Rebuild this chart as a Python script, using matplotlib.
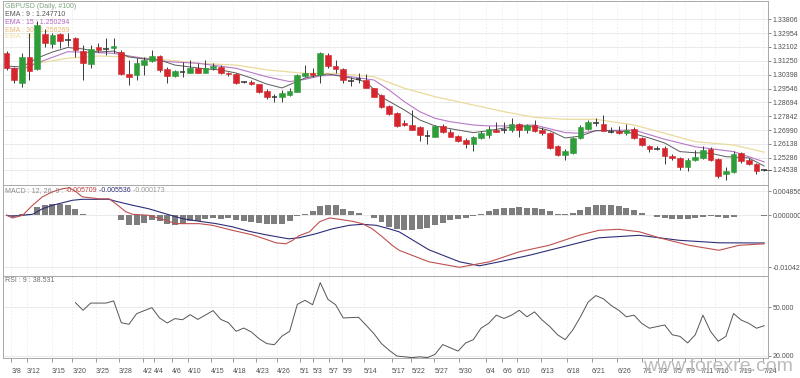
import matplotlib
matplotlib.use('Agg')
import matplotlib.pyplot as plt
from matplotlib.patches import Rectangle

# ---------------- data ----------------
opens = [1.3171,1.3079,1.2990,1.3148,1.3074,1.3290,1.3229,1.3290,1.3253,1.3265,
         1.3187,1.3105,1.3210,1.3198,1.3204,1.3181,1.3043,1.3037,1.3099,1.3125,
         1.3154,1.3074,1.3033,1.3058,1.3051,1.3082,1.3051,1.3079,1.3088,1.3051,
         1.3043,1.2992,1.2996,1.2980,1.2942,1.2903,1.2900,1.2914,1.2934,1.3031,
         1.3051,1.3037,1.3161,1.3093,1.3072,1.3006,1.3008,1.3006,1.2955,1.2914,
         1.2846,1.2801,1.2743,1.2728,1.2715,1.2668,1.2657,1.2724,1.2687,1.2661,
         1.2636,1.2612,1.2647,1.2667,1.2702,1.2698,1.2698,1.2735,1.2698,1.2728,
         1.2698,1.2681,1.2599,1.2543,1.2558,1.2647,1.2708,1.2741,1.2735,1.2688,
         1.2694,1.2678,1.2708,1.2650,1.2601,1.2586,1.2591,1.2537,1.2529,1.2471,
         1.2513,1.2529,1.2585,1.2523,1.2426,1.2441,1.2558,1.2517,1.2488,1.2455]
highs = [1.3185,1.3088,1.3173,1.3296,1.3370,1.3319,1.3296,1.3296,1.3296,1.3272,
         1.3222,1.3222,1.3235,1.3265,1.3265,1.3192,1.3130,1.3142,1.3148,1.3192,
         1.3161,1.3087,1.3068,1.3117,1.3130,1.3111,1.3130,1.3111,1.3099,1.3056,
         1.3049,1.3000,1.3006,1.2982,1.2950,1.2920,1.2944,1.2957,1.3043,1.3099,
         1.3080,1.3179,1.3173,1.3130,1.3080,1.3027,1.3048,1.3043,1.2957,1.2920,
         1.2852,1.2808,1.2759,1.2821,1.2723,1.2698,1.2728,1.2739,1.2708,1.2667,
         1.2647,1.2661,1.2692,1.2723,1.2749,1.2749,1.2770,1.2741,1.2735,1.2759,
         1.2715,1.2685,1.2605,1.2585,1.2653,1.2728,1.2759,1.2770,1.2790,1.2715,
         1.2723,1.2739,1.2715,1.2655,1.2605,1.2599,1.2599,1.2549,1.2531,1.2525,
         1.2574,1.2599,1.2595,1.2529,1.2471,1.2570,1.2564,1.2525,1.2494,1.2460]
lows = [1.3068,1.2986,1.2965,1.3006,1.3068,1.3212,1.3204,1.3204,1.3216,1.3148,
        1.3006,1.3080,1.3179,1.3161,1.3173,1.3037,1.2975,1.3006,1.3037,1.3117,
        1.3056,1.2988,1.3025,1.3025,1.3049,1.3049,1.3049,1.3068,1.3043,1.3031,
        1.2981,1.2988,1.2975,1.2926,1.2889,1.2873,1.2873,1.2908,1.2930,1.3027,
        1.3027,1.2988,1.3080,1.3048,1.2988,1.2969,1.2990,1.2957,1.2900,1.2836,
        1.2790,1.2716,1.2723,1.2698,1.2632,1.2616,1.2653,1.2681,1.2653,1.2625,
        1.2591,1.2570,1.2642,1.2647,1.2685,1.2678,1.2687,1.2657,1.2678,1.2687,
        1.2667,1.2585,1.2536,1.2512,1.2554,1.2641,1.2702,1.2723,1.2690,1.2678,
        1.2673,1.2667,1.2645,1.2599,1.2564,1.2574,1.2492,1.2517,1.2451,1.2447,
        1.2508,1.2523,1.2508,1.2406,1.2389,1.2437,1.2496,1.2482,1.2431,1.2448]
closes = [1.3079,1.3006,1.3146,1.3064,1.3346,1.3237,1.3284,1.3249,1.3256,1.3192,
          1.3109,1.3198,1.3192,1.3195,1.3216,1.3043,1.3023,1.3111,1.3130,1.3154,
          1.3068,1.3031,1.3064,1.3056,1.3082,1.3051,1.3080,1.3093,1.3048,1.3041,
          1.2986,1.2996,1.2982,1.2934,1.2902,1.2905,1.2924,1.2940,1.3037,1.3048,
          1.3037,1.3171,1.3093,1.3072,1.3006,1.3003,1.3011,1.2959,1.2903,1.2842,
          1.2797,1.2723,1.2727,1.2702,1.2667,1.2665,1.2723,1.2687,1.2657,1.2632,
          1.2616,1.2653,1.2678,1.2708,1.2687,1.2700,1.2739,1.2698,1.2728,1.2694,
          1.2678,1.2589,1.2543,1.2568,1.2647,1.2715,1.2749,1.2743,1.2694,1.2686,
          1.2678,1.2702,1.2650,1.2605,1.2585,1.2584,1.2537,1.2529,1.2471,1.2517,
          1.2533,1.2579,1.2517,1.2414,1.2447,1.2554,1.2508,1.2488,1.2447,1.24538]

ema9_idx = [0,2,4,6,8,10,12,14,16,18,20,22,24,26,28,30,32,34,36,39,41,42,45,47,49,52,54,56,
            59,61,63,65,67,69,71,73,75,77,79,81,84,86,88,90,92,94,97,99]
ema9_val = [1.3093,1.3087,1.3142,1.3179,1.3207,1.3198,1.3179,1.3185,1.3149,1.3136,1.3130,
            1.3099,1.3087,1.3075,1.3069,1.3050,1.3019,1.2982,1.2958,1.3019,1.3038,1.3044,
            1.3019,1.2995,1.2902,1.2822,1.2761,1.2724,1.2699,1.2683,1.2695,1.2711,1.2719,
            1.2719,1.2695,1.2650,1.2662,1.2695,1.2695,1.2689,1.2650,1.2619,1.2566,1.2559,
            1.2556,1.2535,1.2527,1.24771]
ema15_idx = [0,2,4,8,12,14,17,21,25,30,34,37,39,41,43,45,48,50,52,54,56,58,61,63,65,69,
             73,75,77,82,86,90,95,99]
ema15_val = [1.3081,1.3075,1.3112,1.3181,1.3175,1.3171,1.3147,1.3120,1.3110,1.3079,1.3027,
             1.2997,1.3011,1.3032,1.3038,1.3027,1.3007,1.2945,1.2873,1.2812,1.2771,1.2750,
             1.2730,1.2724,1.2724,1.2730,1.2683,1.2679,1.2695,1.2699,1.2642,1.2596,1.2566,
             1.250294]
ema30_idx = [2,4,8,12,17,21,25,30,34,39,43,48,52,56,61,65,69,73,77,82,86,90,95,99]
ema30_val = [1.3069,1.3110,1.3141,1.3155,1.3147,1.3130,1.3110,1.3099,1.3069,1.3048,1.3048,
             1.3027,1.2956,1.2904,1.2853,1.2812,1.2777,1.2765,1.2765,1.2730,1.2679,1.2627,
             1.2607,1.256269]

macd_idx = [0,0.8,2.1,3.4,4.7,6.0,7.3,8.2,9.1,9.9,12.1,13.4,14.3,15.6,16.5,18.6,20.8,22.1,
            25.2,26.9,29.5,32.1,33.9,35.2,36.5,37.4,38.2,39.6,40.9,42.2,43.5,45.2,46.5,47.8,
            49.1,50.4,51.3,55.2,59.2,63.1,67.0,70.9,74.8,77.4,80.0,82.7,85.3,89.2,93.1,95.7,99]
macd_val = [0,-0.00053,0,0.0020,0.0037,0.0047,0.0053,0.0055,0.0047,0.0037,0.0033,0.0033,
            0.0023,0.0007,0.0002,0,-0.0010,-0.00167,-0.00167,-0.0020,-0.0030,-0.0039,-0.0048,
            -0.0055,-0.0057,-0.0050,-0.0041,-0.0033,-0.0013,-0.00053,-0.0008,-0.0012,-0.00167,
            -0.0027,-0.0043,-0.0060,-0.0070,-0.0093,-0.0104,-0.0093,-0.0073,-0.0060,-0.0040,
            -0.0030,-0.0028,-0.0033,-0.0045,-0.0060,-0.0070,-0.0060,-0.005709]
signal_idx = [0,0.8,2.1,3.4,4.7,6.0,7.3,8.6,9.9,11.2,13.4,14.3,16.5,18.6,20.8,23.0,25.2,27.4,
              29.5,31.7,33.9,36.1,36.9,38.2,40.4,42.6,44.8,46.5,48.3,50.0,51.3,55.2,59.2,61.8,
              64.4,68.3,72.2,77.4,82.7,87.9,93.1,99]
signal_val = [0,-0.0002,0,0.0002,0.0013,0.0020,0.0025,0.0030,0.0032,0.0032,0.0032,0.0028,
              0.0020,0.0013,0.0003,-0.00067,-0.0012,-0.00167,-0.0023,-0.0032,-0.0039,-0.0045,
              -0.0047,-0.0045,-0.0037,-0.0027,-0.0020,-0.0018,-0.0020,-0.0027,-0.0033,-0.0069,
              -0.0093,-0.0101,-0.0093,-0.0080,-0.0065,-0.0045,-0.0040,-0.0050,-0.0055,-0.005536]
macd_hist = [0.0001,-0.0002,0.0002,0.0003,0.00167,0.0020,0.00233,0.00233,0.00213,0.00133,
             0.00033,0.0001,0.0,0.0,0.0,-0.0010,-0.0020,-0.00187,-0.00147,-0.0010,
             -0.0012,-0.00167,-0.00187,-0.00167,-0.0012,-0.0012,-0.00067,-0.00053,-0.00067,-0.00053,
             -0.0010,-0.0012,-0.00133,-0.00147,-0.0018,-0.0018,-0.00167,-0.0012,-0.0001,0.0002,
             0.0008,0.00187,0.00213,0.0020,0.00133,0.0008,0.00047,0.0,-0.00053,-0.00133,
             -0.00233,-0.0028,-0.0030,-0.0030,-0.0028,-0.0025,-0.0020,-0.0015,-0.0010,-0.0008,
             -0.0005,-0.0002,0.0003,0.0008,0.0012,0.0014,0.0015,0.0016,0.0015,0.0014,
             0.0012,0.0008,0.0003,0.0002,0.0005,0.0010,0.0016,0.0020,0.0021,0.0020,
             0.0018,0.0014,0.0010,0.0005,0.0,-0.0003,-0.0005,-0.0007,-0.0008,-0.0008,
             -0.0006,-0.0003,-0.0001,-0.0003,-0.0005,-0.0003,0.0001,0.0001,0.0,-0.000173]

rsi_start = 9
rsi_val = [52.7,48.0,52.4,52.4,52.4,53.7,40.4,39.4,45.9,47.8,49.6,43.3,40.2,42.9,42.2,45.3,
           42.4,45.1,47.8,42.4,40.4,35.1,37.1,34.7,30.6,27.6,26.9,32.2,35.1,51.6,54.1,51.4,
           64.9,54.7,51.4,43.3,43.5,43.7,38.8,33.7,27.6,23.5,20.0,19.5,19.0,19.5,19.0,21.0,
           27.0,25.0,23.0,28.0,30.0,37.0,40.0,45.0,43.0,45.0,48.0,44.0,47.0,42.0,38.0,33.0,
           30.0,36.0,44.0,53.0,57.0,55.0,51.0,48.0,44.0,45.0,40.0,37.0,38.0,39.0,33.0,32.0,
           28.0,33.0,45.0,35.0,29.0,32.0,46.0,42.0,40.0,37.0,38.531]

price_ticks = [1.33806,1.32954,1.32102,1.31250,1.30398,1.29546,1.28694,1.27842,1.26990,1.26138,1.25286]
last_price = 1.24538
macd_ticks = [0.004856, 0.0, -0.010427]
macd_tick_labels = ['0.004856', '0.000000', '-0.010427']
rsi_ticks = [50, 20]
date_labels = ['3/8','3/12','3/15','3/20','3/25','3/28','4/2','4/4','4/6','4/10','4/15','4/18',
               '4/23','4/26','5/1','5/3','5/7','5/9','5/14','5/17','5/22','5/27','5/30','6/4',
               '6/6','6/10','6/13','6/18','6/21','6/26','7/1','7/3','7/5','7/9','7/11','7/16',
               '7/19','7/24']
date_pos = [0.65,2.7,5.9,8.6,11.7,14.7,17.8,19.3,21.6,23.7,26.7,29.6,32.6,35.3,38.3,40.0,42.1,
            43.9,46.7,50.4,52.9,55.9,59.1,62.6,64.8,66.7,69.8,73.2,76.5,79.8,83.1,85.1,87.0,
            88.7,90.7,92.6,95.7,98.9]

# ---------------- layout ----------------
W, H = 800, 378
X0, STEP = 6.5, 7.653   # pixel of first candle, pixel per candle
FONT = 'Liberation Sans'
FS = 5.0
TXT = '#505050'
GRID = '#e6e6e6'
SPINE = '#a8a8a8'

plt.rcParams['font.family'] = [FONT, 'DejaVu Sans']

fig = plt.figure(figsize=(W / 100, H / 100), dpi=100)
fig.patch.set_facecolor('white')


def add_ax(l, t, r, b):
    return fig.add_axes([l / W, 1 - b / H, (r - l) / W, (b - t) / H])


ax1 = add_ax(3, 1, 768, 185)
ax2 = add_ax(3, 185, 768, 276)
ax3 = add_ax(3, 276, 768, 358)
xlim = ((3 - X0) / STEP, (768 - X0) / STEP)

for ax in (ax1, ax2, ax3):
    ax.set_xlim(*xlim)
    ax.yaxis.tick_right()
    ax.tick_params(axis='y', length=2, width=0.6, color='#777', labelsize=FS,
                   labelcolor=TXT, pad=1.5)
    ax.tick_params(axis='x', length=0)
    for s in ax.spines.values():
        s.set_color(SPINE)
        s.set_linewidth(0.7)
    ax.set_xticks(date_pos)
    ax.xaxis.grid(True, color='#ececec', lw=0.6, ls=(0, (2, 2)))
    ax.yaxis.grid(True, color=GRID, lw=0.6)
    ax.set_axisbelow(True)
    ax.set_xticklabels([])

# ---------- main candle panel ----------
def p_of_pix(y):
    return 1.33806 + (19.3 - y) * 0.0006156

ax1.set_ylim(p_of_pix(185), p_of_pix(1))
ax1.set_yticks(price_ticks + [last_price])
ax1.set_yticklabels([f'{v:.5f}' for v in price_ticks + [last_price]])

UP, DOWN, WICK = '#2f9e3a', '#d4262c', '#3a3a3a'
bw = 0.74
for i, (o, h, l, c) in enumerate(zip(opens, highs, lows, closes)):
    ax1.plot([i, i], [l, h], color=WICK, lw=0.7, zorder=3, solid_capstyle='butt')
    if abs(c - o) < 0.0005:
        ax1.plot([i - bw / 2, i + bw / 2], [c, c], color='#333333', lw=1.1, zorder=4,
                 solid_capstyle='butt')
    else:
        col = UP if c > o else DOWN
        ax1.add_patch(Rectangle((i - bw / 2, min(o, c)), bw, abs(c - o), facecolor=col,
                                edgecolor=col, lw=0.4, zorder=4))

ax1.plot(ema30_idx, ema30_val, color='#eadb9c', lw=0.9, zorder=2.5)
ax1.plot(ema15_idx, ema15_val, color='#b878c8', lw=0.8, zorder=2.6)
ax1.plot(ema9_idx, ema9_val, color='#5a5a5a', lw=0.7, zorder=2.7)
ax1.plot([len(closes) - 1, xlim[1] + 0.4], [last_price, last_price], color='#555555',
         lw=0.6, zorder=3, clip_on=False)

legend_rows = [('GBPUSD (Daily, #100)', '#7fa27f', 6.5),
               ('EMA : 9 : 1.247710', '#555555', 14.5),
               ('EMA : 15 : 1.250294', '#b468c6', 23.0),
               ('EMA : 30 : 1.256269', '#e8b878', 30.5),
               ('EMA : 30', '#efe0a6', 36.5)]
for txt, col, yp in legend_rows:
    ax1.text(5 / W, 1 - yp / H, txt, transform=fig.transFigure, color=col, fontsize=FS,
             va='center', ha='left', zorder=2)

# ---------- MACD panel ----------
def m_of_pix(y):
    return (215.3 - y) / 5.0 * 1e-3

ax2.set_ylim(m_of_pix(276), m_of_pix(185))
ax2.set_yticks(macd_ticks)
ax2.set_yticklabels(macd_tick_labels)
ax2.bar(range(len(macd_hist)), macd_hist, width=0.78, color='#7d7d7d', zorder=2)
ax2.plot(signal_idx, signal_val, color='#2e2f78', lw=0.8, zorder=3)
ax2.plot(macd_idx, macd_val, color='#c05050', lw=0.8, zorder=3)

t = ax2.text(5 / W, 1 - 190.5 / H, 'MACD : 12, 26, 9 : ', transform=fig.transFigure,
             color='#8a8a8a', fontsize=FS, va='center', ha='left')
for piece, col in (('-0.005709', '#c04040'), (' -0.005536', '#2e2f78'), (' -0.000173', '#9a9a9a')):
    t = ax2.annotate(piece, xy=(1, 0), xycoords=t, color=col, fontsize=FS, va='bottom',
                     ha='left')

# ---------- RSI panel ----------
def r_of_pix(y):
    return 50 - (y - 307) / 1.633

ax3.set_ylim(r_of_pix(358), r_of_pix(276))
ax3.set_yticks(rsi_ticks)
ax3.set_yticklabels([f'{v:.3f}' for v in rsi_ticks])
ax3.plot(range(rsi_start, rsi_start + len(rsi_val)), rsi_val, color='#555555', lw=0.7, zorder=3)
ax3.text(5 / W, 1 - 281 / H, 'RSI : 9 : 38.531', transform=fig.transFigure, color='#707070',
         fontsize=FS, va='center', ha='left')

ax3.tick_params(axis='x', length=3, width=0.6, color='#888', labelsize=FS, labelcolor=TXT, pad=4)
ax3.set_xticklabels(date_labels, ha='left')

fig.text(793 / W, 1 - 371 / H, 'www.forexre.com', ha='right', va='baseline', fontsize=14,
         color='#bcbcbc', family='Liberation Sans')

fig.savefig('out.png', dpi=100, facecolor='white')
